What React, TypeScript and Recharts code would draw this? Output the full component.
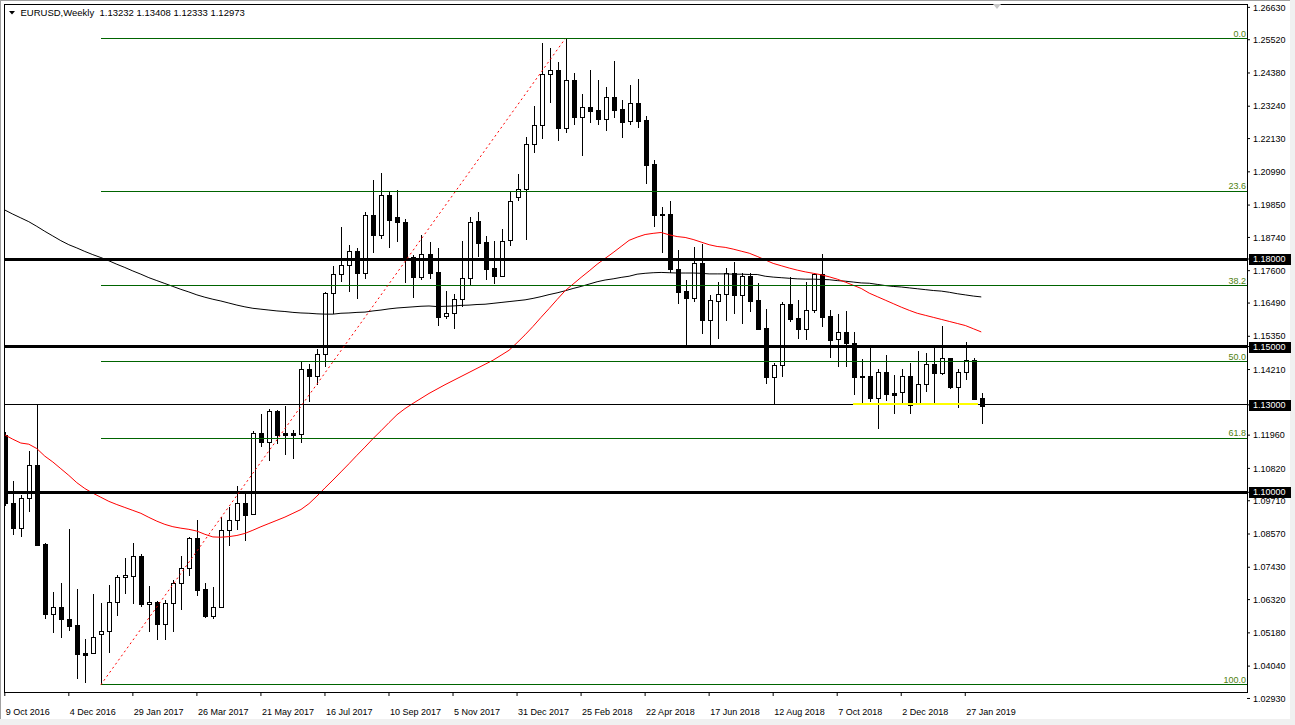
import React from 'react';
import { ComposedChart, Bar, Line, XAxis, YAxis, ReferenceLine } from 'recharts';

const FONT = '"Liberation Sans", Arial, sans-serif';

const opens = [
  1.1197, 1.0962, 1.0877, 1.0979, 1.1094, 1.0823, 1.0582, 1.0606, 1.0564, 1.0544,
  1.0448, 1.0448, 1.0513, 1.0525, 1.0625, 1.0709, 1.0714, 1.0782, 1.0616, 1.0624,
  1.0549, 1.0619, 1.0688, 1.0739, 1.0842, 1.0668, 1.0577, 1.0606, 1.0871, 1.0905,
  1.0962, 1.0925, 1.1202, 1.1174, 1.1279, 1.1202, 1.1202, 1.1199, 1.1423, 1.1400,
  1.1473, 1.1682, 1.1748, 1.1778, 1.1826, 1.1753, 1.1950, 1.1881, 1.2020, 1.1944,
  1.1926, 1.1808, 1.1739, 1.1816, 1.1754, 1.1605, 1.1614, 1.1662, 1.1735, 1.1930,
  1.1858, 1.1769, 1.1743, 1.1864, 1.2012, 1.2039, 1.2193, 1.2259, 1.2434, 1.2447,
  1.2250, 1.2413, 1.2288, 1.2320, 1.2310, 1.2281, 1.2355, 1.2313, 1.2273, 1.2334,
  1.2277, 1.2126, 1.1953, 1.1953, 1.1765, 1.1689, 1.1665, 1.1785, 1.1592, 1.1657,
  1.1679, 1.1751, 1.1677, 1.1742, 1.1659, 1.1562, 1.1394, 1.1436, 1.1645, 1.1597,
  1.1559, 1.1624, 1.1748, 1.1604, 1.1525, 1.1550, 1.1511, 1.1399, 1.1399, 1.1322,
  1.1413, 1.1341, 1.1344, 1.1398, 1.1302, 1.1370, 1.1439, 1.1408, 1.1460, 1.1362,
  1.1413, 1.1454, 1.13232,
];

const highs = [
  1.1207, 1.1039, 1.0991, 1.1142, 1.1299, 1.0825, 1.0657, 1.0688, 1.0874, 1.0667,
  1.0497, 1.0651, 1.0621, 1.0682, 1.0716, 1.0776, 1.0825, 1.0787, 1.0679, 1.0627,
  1.0631, 1.0699, 1.0782, 1.0848, 1.0905, 1.0688, 1.0674, 1.0916, 1.0949, 1.1022,
  1.0997, 1.1211, 1.1269, 1.1286, 1.1282, 1.1297, 1.1214, 1.1446, 1.1439, 1.1491,
  1.1687, 1.1776, 1.1911, 1.1848, 1.1837, 1.1962, 1.2071, 1.2094, 1.2031, 1.2037,
  1.1936, 1.1814, 1.1882, 1.1859, 1.1837, 1.1691, 1.1679, 1.1863, 1.1945, 1.1961,
  1.1880, 1.1862, 1.1902, 1.2033, 1.2091, 1.2217, 1.2325, 1.2540, 1.2523, 1.2475,
  1.2555, 1.2438, 1.2366, 1.2448, 1.2414, 1.2391, 1.2479, 1.2345, 1.2397, 1.2417,
  1.2290, 1.2140, 1.1977, 1.1999, 1.1831, 1.1727, 1.1840, 1.1852, 1.1676, 1.1720,
  1.1768, 1.1789, 1.1751, 1.1751, 1.1717, 1.1628, 1.1443, 1.1653, 1.1737, 1.1659,
  1.1721, 1.1751, 1.1817, 1.1625, 1.1611, 1.1622, 1.1549, 1.1457, 1.1496, 1.1422,
  1.1471, 1.1402, 1.1422, 1.1444, 1.1485, 1.1477, 1.1497, 1.1571, 1.1462, 1.1422,
  1.1514, 1.1460, 1.13408,
];

const lows = [
  1.0953, 1.0854, 1.0848, 1.0933, 1.0816, 1.0566, 1.0516, 1.0501, 1.0525, 1.0361,
  1.0347, 1.0445, 1.0340, 1.0450, 1.0577, 1.0651, 1.0617, 1.0606, 1.0520, 1.0493,
  1.0493, 1.0522, 1.0596, 1.0714, 1.0645, 1.0570, 1.0566, 1.0602, 1.0817, 1.0871,
  1.0834, 1.0921, 1.1156, 1.1108, 1.1166, 1.1128, 1.1114, 1.1168, 1.1311, 1.1368,
  1.1431, 1.1610, 1.1722, 1.1688, 1.1662, 1.1730, 1.1822, 1.1868, 1.1837, 1.1859,
  1.1717, 1.1667, 1.1728, 1.1730, 1.1571, 1.1595, 1.1559, 1.1637, 1.1711, 1.1808,
  1.1728, 1.1714, 1.1739, 1.1846, 1.2000, 1.1865, 1.2165, 1.2213, 1.2336, 1.2206,
  1.2233, 1.2260, 1.2153, 1.2268, 1.2260, 1.2240, 1.2285, 1.2216, 1.2260, 1.2250,
  1.2056, 1.1911, 1.1822, 1.1751, 1.1645, 1.1502, 1.1652, 1.1542, 1.1502, 1.1527,
  1.1588, 1.1612, 1.1576, 1.1619, 1.1557, 1.1370, 1.1299, 1.1394, 1.1583, 1.1526,
  1.1522, 1.1616, 1.1568, 1.1462, 1.1431, 1.1431, 1.1335, 1.1303, 1.1311, 1.1216,
  1.1314, 1.1268, 1.1307, 1.1269, 1.1300, 1.1343, 1.1307, 1.1402, 1.1354, 1.1288,
  1.1385, 1.1317, 1.12333,
];

const closes = [
  1.0962, 1.0877, 1.0979, 1.1094, 1.0819, 1.0582, 1.0606, 1.0564, 1.0543, 1.0444,
  1.0442, 1.0505, 1.0525, 1.0625, 1.0709, 1.0716, 1.0782, 1.0616, 1.0623, 1.0549,
  1.0620, 1.0688, 1.0739, 1.0842, 1.0665, 1.0577, 1.0606, 1.0871, 1.0905, 1.0962,
  1.0923, 1.1202, 1.1174, 1.1278, 1.1197, 1.1197, 1.1197, 1.1422, 1.1400, 1.1473,
  1.1682, 1.1748, 1.1778, 1.1826, 1.1753, 1.1950, 1.1881, 1.2020, 1.1935, 1.1926,
  1.1808, 1.1739, 1.1816, 1.1753, 1.1602, 1.1614, 1.1662, 1.1735, 1.1926, 1.1856,
  1.1767, 1.1743, 1.1861, 1.1998, 1.2039, 1.2193, 1.2259, 1.2434, 1.2447, 1.2250,
  1.2413, 1.2288, 1.2320, 1.2309, 1.2281, 1.2355, 1.2312, 1.2271, 1.2334, 1.2274,
  1.2123, 1.1951, 1.1951, 1.1765, 1.1688, 1.1667, 1.1785, 1.1591, 1.1658, 1.1679,
  1.1751, 1.1677, 1.1742, 1.1657, 1.1559, 1.1394, 1.1436, 1.1645, 1.1595, 1.1559,
  1.1624, 1.1748, 1.1602, 1.1523, 1.1549, 1.1511, 1.1396, 1.1396, 1.1322, 1.1413,
  1.1337, 1.1335, 1.1398, 1.1299, 1.1370, 1.1439, 1.1408, 1.1460, 1.1362, 1.1413,
  1.1454, 1.1321, 1.12973,
];

// red moving average
const maRed = [
  1.1197, 1.1182, 1.1169, 1.1165, 1.1150, 1.1124, 1.1104, 1.1081, 1.1058, 1.1033,
  1.1013, 1.0997, 1.0983, 1.0969, 1.0958, 1.0948, 1.0938, 1.0928, 1.0914, 1.0901,
  1.0890, 1.0882, 1.0877, 1.0873, 1.0867, 1.0856, 1.0847, 1.0846, 1.0848, 1.0852,
  1.0859, 1.0870, 1.0882, 1.0893, 1.0904, 1.0915, 1.0928, 1.0941, 1.0961, 1.0987,
  1.1015, 1.1042, 1.1070, 1.1098, 1.1127, 1.1155, 1.1184, 1.1211, 1.1239, 1.1266,
  1.1287, 1.1305, 1.1322, 1.1339, 1.1354, 1.1369, 1.1383, 1.1397, 1.1411, 1.1425,
  1.1439, 1.1453, 1.1470, 1.1487, 1.1513, 1.1540, 1.1569, 1.1600, 1.1630, 1.1661,
  1.1691, 1.1714, 1.1737, 1.1759, 1.1782, 1.1802, 1.1822, 1.1843, 1.1864, 1.1875,
  1.1884, 1.1888, 1.1891, 1.1883, 1.1877, 1.1874, 1.1867, 1.1858, 1.1849, 1.1843,
  1.1840, 1.1834, 1.1827, 1.1820, 1.1809, 1.1797, 1.1785, 1.1777, 1.1769, 1.1762,
  1.1756, 1.1751, 1.1746, 1.1739, 1.1731, 1.1721, 1.1710, 1.1699, 1.1683, 1.1671,
  1.1659, 1.1647, 1.1635, 1.1624, 1.1614, 1.1607, 1.1600, 1.1593, 1.1586, 1.1579,
  1.1572, 1.1561, 1.1550,
];

// black moving average
const maBlack = [
  1.1968, 1.1954, 1.1941, 1.1928, 1.1912, 1.1895, 1.1879, 1.1863, 1.1849, 1.1838,
  1.1826, 1.1815, 1.1805, 1.1794, 1.1782, 1.1771, 1.1759, 1.1748, 1.1736, 1.1726,
  1.1716, 1.1706, 1.1696, 1.1687, 1.1677, 1.1669, 1.1662, 1.1656, 1.1649, 1.1642,
  1.1636, 1.1631, 1.1628, 1.1625, 1.1622, 1.1620, 1.1617, 1.1615, 1.1614, 1.1612,
  1.1611, 1.1611, 1.1614, 1.1615, 1.1617, 1.1618, 1.1622, 1.1625, 1.1629, 1.1632,
  1.1634, 1.1636, 1.1638, 1.1639, 1.1637, 1.1638, 1.1639, 1.1641, 1.1642, 1.1644,
  1.1645, 1.1648, 1.1651, 1.1654, 1.1657, 1.1660, 1.1665, 1.1671, 1.1678, 1.1684,
  1.1691, 1.1699, 1.1706, 1.1714, 1.1722, 1.1728, 1.1732, 1.1737, 1.1741, 1.1748,
  1.1751, 1.1753, 1.1754, 1.1753, 1.1752, 1.1752, 1.1752, 1.1751, 1.1749, 1.1749,
  1.1749, 1.1748, 1.1748, 1.1747, 1.1747, 1.1741, 1.1738, 1.1736, 1.1734, 1.1732,
  1.1731, 1.1731, 1.1730, 1.1729, 1.1726, 1.1724, 1.1721, 1.1718, 1.1717, 1.1713,
  1.1709, 1.1706, 1.1704, 1.1701, 1.1698, 1.1695, 1.1692, 1.1690, 1.1686, 1.1681,
  1.1677, 1.1673, 1.1670,
];

const dateTickIdx = [0, 8, 16, 24, 32, 40, 48, 56, 64, 72, 80, 88, 96, 104, 112, 120];
const dateTickLabels = [
  '9 Oct 2016', '4 Dec 2016', '29 Jan 2017', '26 Mar 2017', '21 May 2017', '16 Jul 2017',
  '10 Sep 2017', '5 Nov 2017', '31 Dec 2017', '25 Feb 2018', '22 Apr 2018', '17 Jun 2018',
  '12 Aug 2018', '7 Oct 2018', '2 Dec 2018', '27 Jan 2019',
];

const priceTicks = [
  1.2663, 1.2552, 1.2438, 1.2324, 1.2213, 1.2099, 1.1985, 1.1874, 1.18, 1.176,
  1.1649, 1.1535, 1.15, 1.1421, 1.13, 1.1196, 1.1082, 1.1, 1.0971, 1.0857,
  1.0743, 1.0632, 1.0518, 1.0404, 1.0293,
];
const boxedLevels = [1.18, 1.15, 1.13, 1.1];
const thickLevels = [1.18, 1.15, 1.1];
const thinLevels = [1.13];

const fibHigh = 1.2555;
const fibLow = 1.034;
const fibHighIdx = 70;
const fibLowIdx = 12;
const fibRatios = [0, 0.236, 0.382, 0.5, 0.618, 1];
const fibNames = ['0.0', '23.6', '38.2', '50.0', '61.8', '100.0'];

const supportLevel = 1.1302;
const supportFrom = 106;
const supportTo = 121.6;

const X_MIN = -0.1;
const X_MAX = 155.2;
const Y_MIN = 1.03152;
const Y_MAX = 1.26711;

const data = opens.map((o, i) => ({
  i,
  open: o,
  high: highs[i],
  low: lows[i],
  close: closes[i],
  range: [lows[i], highs[i]],
  maRed: maRed[i],
  maBlack: maBlack[i],
}));

const Candle = (props: any) => {
  const { x, y, width, height, payload } = props;
  if (!payload || height == null) return null;
  const { open, close, high, low } = payload;
  const span = high - low;
  const k = span > 0 ? height / span : 0;
  const cx = Math.round(x + width / 2) + 0.5;
  const top = y + (high - Math.max(open, close)) * k;
  const bot = y + (high - Math.min(open, close)) * k;
  const bull = close > open;
  const bt = Math.round(top) + 0.5;
  let bb = Math.round(bot) + 0.5;
  if (bb - bt < 1) bb = bt + 1;
  return (
    <g>
      <line x1={cx} x2={cx} y1={y} y2={y + height} stroke="#000" strokeWidth={1} shapeRendering="crispEdges" />
      <rect
        x={cx - 2}
        y={bt}
        width={4}
        height={bb - bt}
        fill={bull ? '#fff' : '#000'}
        stroke="#000"
        strokeWidth={1}
        shapeRendering="crispEdges"
      />
    </g>
  );
};

const XTick = (p: any) => {
  const idx = dateTickIdx.indexOf(p.payload.value);
  return (
    <text x={p.x + 1} y={p.y + 17} textAnchor="start" fontSize={9} fontFamily={FONT} fill="#000">
      {idx >= 0 ? dateTickLabels[idx] : ''}
    </text>
  );
};

const YTick = (p: any) => {
  const v = p.payload.value;
  const label = v.toFixed(5);
  const boxed = boxedLevels.some((b) => Math.abs(b - v) < 1e-9);
  if (boxed) {
    return (
      <g>
        <rect x={p.x - 3} y={Math.round(p.y) - 5} width={42} height={11} fill="#000" />
        <text x={p.x + 1} y={p.y} dy="0.35em" fontSize={9} fontFamily={FONT} fill="#fff">
          {label}
        </text>
      </g>
    );
  }
  return (
    <text x={p.x + 1} y={p.y} dy="0.35em" fontSize={9} fontFamily={FONT} fill="#000">
      {label}
    </text>
  );
};

const fibLabel = (name: string) => (lp: any) => {
  const vb = lp.viewBox || {};
  return (
    <text x={vb.x + vb.width - 1} y={vb.y - 2} textAnchor="end" fontSize={9} fontFamily={FONT} fill="#4f7f10">
      {name}
    </text>
  );
};

export default function App() {
  const last = data[data.length - 1];
  return (
    <div style={{ position: 'absolute', left: 0, top: 0, width: 1295, height: 725, background: '#f0f0f0', overflow: 'hidden' }}>
      <div
        style={{
          position: 'absolute',
          left: 0,
          top: 0,
          width: 1290,
          height: 719,
          background: '#fff',
          borderTop: '1px solid #a0a0a0',
          borderLeft: '1px solid #a0a0a0',
          boxSizing: 'border-box',
        }}
      />
      <div style={{ position: 'absolute', left: 0, top: 0 }}>
        <ComposedChart width={1295} height={725} data={data} margin={{ top: 5, right: 0, bottom: 0, left: 4 }}>
          <XAxis
            type="number"
            dataKey="i"
            domain={[X_MIN, X_MAX]}
            allowDataOverflow
            ticks={dateTickIdx}
            interval={0}
            height={33}
            axisLine={false}
            tickLine={{ stroke: '#000' }}
            tickSize={4}
            tickMargin={2}
            tick={XTick}
          />
          <YAxis
            orientation="right"
            type="number"
            domain={[Y_MIN, Y_MAX]}
            allowDataOverflow
            ticks={priceTicks}
            interval={0}
            width={48}
            axisLine={false}
            tickLine={{ stroke: '#000' }}
            tickSize={3}
            tickMargin={2}
            tick={YTick}
          />
          <Bar dataKey="range" barSize={5} isAnimationActive={false} shape={(p: any) => <Candle {...p} />} />
          <Line type="linear" dataKey="maBlack" stroke="#000" strokeWidth={1} dot={false} activeDot={false} isAnimationActive={false} />
          <Line type="linear" dataKey="maRed" stroke="#ff0000" strokeWidth={1} dot={false} activeDot={false} isAnimationActive={false} />
          {thickLevels.map((lv) => (
            <ReferenceLine key={'t' + lv} y={lv} stroke="#000" strokeWidth={3} shapeRendering="crispEdges" />
          ))}
          {thinLevels.map((lv) => (
            <ReferenceLine key={'n' + lv} y={lv} stroke="#000" strokeWidth={1} shapeRendering="crispEdges" />
          ))}
          {fibRatios.map((r, k) => {
            const lv = fibHigh - r * (fibHigh - fibLow);
            return (
              <ReferenceLine
                key={'f' + k}
                segment={[
                  { x: fibLowIdx, y: lv },
                  { x: X_MAX, y: lv },
                ]}
                stroke="#006400"
                strokeWidth={1}
                shapeRendering="crispEdges"
                label={fibLabel(fibNames[k])}
              />
            );
          })}
          <ReferenceLine
            segment={[
              { x: fibLowIdx, y: fibLow },
              { x: fibHighIdx, y: fibHigh },
            ]}
            stroke="#ff0000"
            strokeWidth={1}
            strokeDasharray="2 3"
          />
          <ReferenceLine
            segment={[
              { x: supportFrom, y: supportLevel },
              { x: supportTo, y: supportLevel },
            ]}
            stroke="#ffff00"
            strokeWidth={2}
            shapeRendering="crispEdges"
          />
        </ComposedChart>
      </div>
      <svg
        width={1295}
        height={725}
        style={{ position: 'absolute', left: 0, top: 0, pointerEvents: 'none' }}
      >
        <rect x={4.5} y={4.5} width={1243} height={688} fill="none" stroke="#000" strokeWidth={1} shapeRendering="crispEdges" />
        <polygon points="9,11 15,11 12,14.5" fill="#000" />
        <text x={20.5} y={16.3} fontSize={9.5} fontFamily={FONT} fill="#000">
          EURUSD,Weekly
        </text>
        <text x={99.5} y={16.3} fontSize={9.5} fontFamily={FONT} fill="#000">
          {[last.open, last.high, last.low, last.close].map((v) => v.toFixed(5)).join(' ')}
        </text>
        <polygon points="993,4 1001,4 997,9" fill="#c8c8c8" />
      </svg>
    </div>
  );
}
